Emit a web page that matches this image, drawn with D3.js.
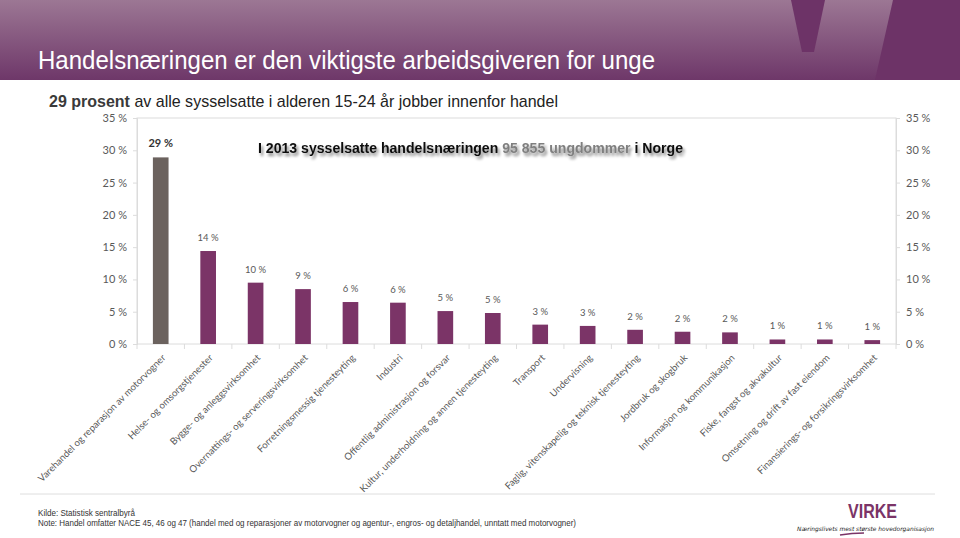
<!DOCTYPE html>
<html><head><meta charset="utf-8">
<script src="https://cdn.jsdelivr.net/npm/d3@7"></script>
<style>
html,body{margin:0;padding:0;background:#fff;}
svg{display:block;}
</style></head>
<body>
<svg id="c" width="960" height="538"></svg>
<script>
const categories = [
  "Varehandel og reparasjon av motorvogner",
  "Helse- og omsorgstjenester",
  "Bygge- og anleggsvirksomhet",
  "Overnattings- og serveringsvirksomhet",
  "Forretningsmessig tjenesteyting",
  "Industri",
  "Offentlig administrasjon og forsvar",
  "Kultur, underholdning og annen tjenesteyting",
  "Transport",
  "Undervisning",
  "Faglig, vitenskapelig og teknisk tjenesteyting",
  "Jordbruk og skogbruk",
  "Informasjon og kommunikasjon",
  "Fiske, fangst og akvakultur",
  "Omsetning og drift av fast eiendom",
  "Finansierings- og forsikringsvirksomhet"
];
const values = [28.9, 14.4, 9.5, 8.5, 6.5, 6.4, 5.1, 4.8, 3.0, 2.8, 2.2, 1.9, 1.8, 0.7, 0.7, 0.6];
const valueLabels = ["29 %","14 %","10 %","9 %","6 %","6 %","5 %","5 %","3 %","3 %","2 %","2 %","2 %","1 %","1 %","1 %"];
const yTicks = [0, 5, 10, 15, 20, 25, 30, 35];
const titleText = "Handelsnæringen er den viktigste arbeidsgiveren for unge";
const subtitleBold = "29 prosent";
const subtitleRest = " av alle sysselsatte i alderen 15-24 år jobber innenfor handel";
const annotation = ["I 2013 sysselsatte handelsnæringen ", "95 855 ungdommer", " i Norge"];
const sourceText = "Kilde: Statistisk sentralbyrå";
const noteText = "Note: Handel omfatter NACE 45, 46 og 47 (handel med og reparasjoner av motorvogner og agentur-, engros- og detaljhandel, unntatt med motorvogner)";

const svg = d3.select("#c");
const defs = svg.append("defs");
const grad = defs.append("linearGradient").attr("id","hg").attr("x1",0).attr("y1",0).attr("x2",0).attr("y2",1);
grad.append("stop").attr("offset","0%").attr("stop-color","#9c7794");
grad.append("stop").attr("offset","100%").attr("stop-color","#6e3769");
const sh = defs.append("filter").attr("id","sh").attr("x","-5%").attr("y","-30%").attr("width","110%").attr("height","180%");
sh.append("feGaussianBlur").attr("in","SourceAlpha").attr("stdDeviation",1.6).attr("result","b");
sh.append("feOffset").attr("in","b").attr("dx",2).attr("dy",3).attr("result","o");
sh.append("feComponentTransfer").attr("in","o").attr("result","o2").append("feFuncA").attr("type","linear").attr("slope",0.5);
const fm = sh.append("feMerge");
fm.append("feMergeNode").attr("in","o2");
fm.append("feMergeNode").attr("in","SourceGraphic");

const narrow = "'Liberation Sans Narrow','Arial Narrow',Arial,sans-serif";

// header
svg.append("rect").attr("x",0).attr("y",0).attr("width",960).attr("height",80).attr("fill","url(#hg)");
svg.append("path").attr("d","M791,0 L825,0 L814,52 L802,52 Z").attr("fill","#6d3367");
svg.append("path").attr("d","M893,0 L960,0 L960,80 L875,80 Z").attr("fill","#6d3367");
svg.append("text").attr("x",38).attr("y",69).attr("fill","#fff")
  .attr("font-family",narrow).attr("font-size",25)
  .attr("textLength",617).attr("lengthAdjust","spacingAndGlyphs")
  .text(titleText);

// subtitle
const st = svg.append("text").attr("x",49).attr("y",107)
  .attr("font-family",narrow).attr("font-size",17).attr("fill","#222")
  .attr("textLength",509).attr("lengthAdjust","spacingAndGlyphs");
st.append("tspan").attr("font-weight","bold").attr("fill","#3a3a3a").text(subtitleBold);
st.append("tspan").text(subtitleRest);

// chart
const L = 137, R = 896, T = 118, B = 344;
const x = d3.scaleBand().domain(categories).range([L, R]).paddingInner(0.67).paddingOuter(0.335);
const y = d3.scaleLinear().domain([0, 35]).range([B, T]);

svg.append("rect").attr("x",L).attr("y",T).attr("width",R-L).attr("height",B-T)
  .attr("fill","none").attr("stroke","#dcdcdc").attr("stroke-width",1);

const tickFont = "Lato, 'Open Sans', sans-serif";
const gl = svg.append("g").attr("transform",`translate(${L},0)`)
  .call(d3.axisLeft(y).tickValues(yTicks).tickFormat(d => d + " %").tickSize(4).tickPadding(6));
const gr = svg.append("g").attr("transform",`translate(${R},0)`)
  .call(d3.axisRight(y).tickValues(yTicks).tickFormat(d => d + " %").tickSize(4).tickPadding(6));
[gl, gr].forEach(g => {
  g.select(".domain").attr("stroke","#dcdcdc");
  g.selectAll(".tick line").attr("stroke","#dcdcdc");
  g.selectAll(".tick text").attr("fill","#595959").attr("font-family",tickFont).attr("font-size",11);
});

// category boundary ticks
const step = x.step();
const bounds = categories.map(c => x(c) + x.bandwidth()/2 - step/2).concat([x(categories[categories.length-1]) + x.bandwidth()/2 + step/2]);
svg.append("g").selectAll("line").data(bounds).join("line")
  .attr("x1", d => d).attr("x2", d => d).attr("y1", B).attr("y2", B + 5)
  .attr("stroke","#dcdcdc");

// bars
svg.append("g").selectAll("rect").data(values).join("rect")
  .attr("x", (d,i) => x(categories[i]))
  .attr("width", x.bandwidth())
  .attr("y", d => y(d))
  .attr("height", d => B - y(d))
  .attr("fill", (d,i) => i === 0 ? "#6b625e" : "#7b3467");

// value labels
svg.append("g").selectAll("text").data(values).join("text")
  .attr("x", (d,i) => x(categories[i]) + x.bandwidth()/2)
  .attr("y", d => y(d) - 10)
  .attr("text-anchor","middle")
  .attr("font-family",tickFont).attr("font-size",(d,i)=> i===0 ? 11 : 9.5)
  .attr("font-weight",(d,i)=> i===0 ? "bold" : "normal")
  .attr("fill",(d,i)=> i===0 ? "#333" : "#595959")
  .text((d,i) => valueLabels[i]);

// category labels
svg.append("g").selectAll("text").data(categories).join("text")
  .attr("transform", d => `translate(${x(d) + x.bandwidth()/2 + 3},${B + 12}) rotate(-45)`)
  .attr("text-anchor","end")
  .attr("dy","0.35em")
  .attr("font-family",tickFont).attr("font-size",9.6)
  .attr("fill","#595959")
  .text(d => d);

// annotation
const an = svg.append("text").attr("x",258).attr("y",153)
  .attr("font-family","'Liberation Sans',Arial,sans-serif").attr("font-size",14.2).attr("font-weight","bold")
  .attr("fill","#111").attr("filter","url(#sh)")
  .attr("textLength",425).attr("lengthAdjust","spacingAndGlyphs");
an.append("tspan").text(annotation[0]);
an.append("tspan").attr("fill","#7f7f7f").text(annotation[1]);
an.append("tspan").text(annotation[2]);

// footer
svg.append("line").attr("x1",20).attr("x2",935).attr("y1",494).attr("y2",494).attr("stroke","#dedede").attr("stroke-width",1);
svg.append("text").attr("x",38).attr("y",516).attr("font-family",narrow).attr("font-size",9).attr("fill","#333")
  .attr("textLength",97).attr("lengthAdjust","spacingAndGlyphs").text(sourceText);
svg.append("text").attr("x",38).attr("y",526).attr("font-family",narrow).attr("font-size",9).attr("fill","#333")
  .attr("textLength",538).attr("lengthAdjust","spacingAndGlyphs").text(noteText);

// logo
svg.append("text").attr("x",848).attr("y",518)
  .attr("font-family","'Liberation Sans',Arial,sans-serif").attr("font-weight","bold").attr("font-size",20)
  .attr("textLength",49).attr("lengthAdjust","spacingAndGlyphs")
  .attr("fill","#7b3467").text("VIRKE");
svg.append("text").attr("x",797).attr("y",531)
  .attr("font-family","'DejaVu Sans',sans-serif").attr("font-style","italic").attr("font-size",6)
  .attr("textLength",137).attr("lengthAdjust","spacingAndGlyphs")
  .attr("fill","#222").text("Næringslivets mest største hovedorganisasjon");
svg.append("path").attr("d","M840,535 Q852,533 864,533").attr("stroke","#7b3467").attr("stroke-width",1.5).attr("fill","none");
</script>
</body></html>
